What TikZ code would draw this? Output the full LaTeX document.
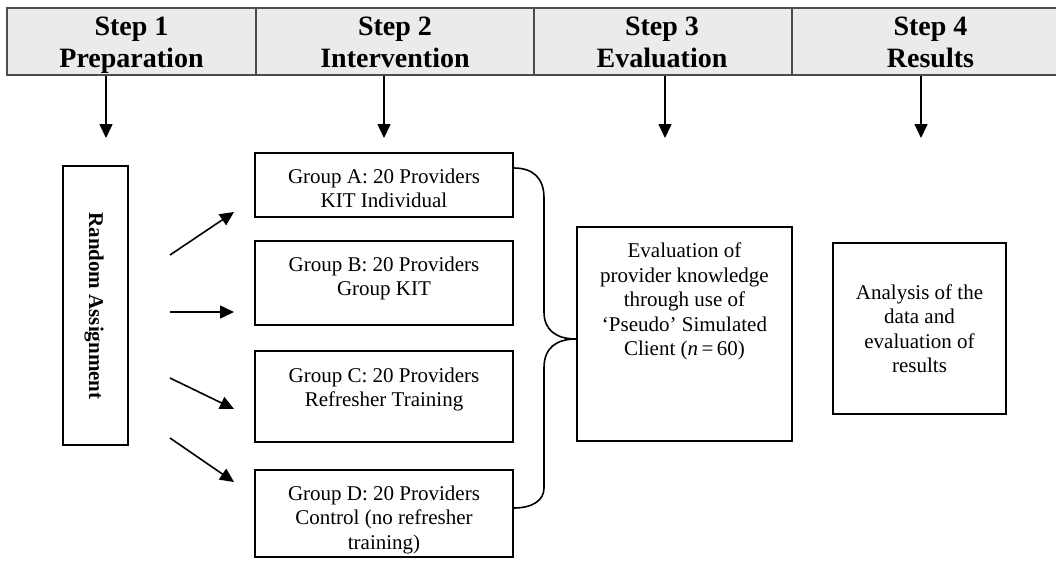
\documentclass[tikz,border=0pt]{standalone}
\usepackage{fontspec}
\setmainfont{Liberation Serif}
\usetikzlibrary{arrows.meta}
\begin{document}
\begin{tikzpicture}[x=1pt,y=-1pt,
  box/.style={draw=black, line width=1.6pt, inner sep=0pt},
  hcell/.style={draw=black!70, line width=1.2pt, fill=black!8, inner sep=0pt, minimum height=67pt},
  txt/.style={font=\fontsize{21}{24.5}\selectfont, align=center, inner sep=0pt},
  hdr/.style={font=\fontsize{28}{32}\selectfont\bfseries, align=center, inner sep=0pt},
  arr/.style={line width=1.6pt, -{Triangle[length=14pt,width=13pt]}},
  brace/.style={line width=1.6pt},
]
\useasboundingbox (0,0) rectangle (1056,560);
\fill[white] (0,0) rectangle (1056,560);

% header
\node[hcell, minimum width=249pt] (h1) at (131.5,41.5) {};
\node[hcell, minimum width=278pt] (h2) at (395,41.5) {};
\node[hcell, minimum width=258pt] (h3) at (663,41.5) {};
\node[hcell, minimum width=277pt] (h4) at (930.5,41.5) {};
\node[hdr, anchor=north] (t1) at (131.5,17) {Step 1\\Preparation};
\node[hdr, anchor=north] (t2) at (395,17) {Step 2\\Intervention};
\node[hdr, anchor=north] (t3) at (662,17) {Step 3\\Evaluation};
\node[hdr, anchor=north] (t4) at (930.5,17) {Step 4\\Results};

% down arrows
\coordinate (a1) at (106,138);
\coordinate (a2) at (384,138);
\coordinate (a3) at (665,138);
\coordinate (a4) at (921,138);
\draw[arr] (h1.south -| a1) -- (a1);
\draw[arr] (h2.south -| a2) -- (a2);
\draw[arr] (h3.south -| a3) -- (a3);
\draw[arr] (h4.south -| a4) -- (a4);

% random assignment
\node[box, minimum width=65pt, minimum height=279pt] (ra) at (95.5,305.5) {};
\node[font=\fontsize{21}{24}\selectfont\bfseries, rotate=-90, inner sep=0pt] (rat) at (94,306) {Random Assignment};

% groups
\node[box, minimum width=258pt, minimum height=64pt] (gA) at (384,185) {};
\node[box, minimum width=258pt, minimum height=84pt] (gB) at (384,283) {};
\node[box, minimum width=258pt, minimum height=91pt] (gC) at (384,396.5) {};
\node[box, minimum width=258pt, minimum height=87pt] (gD) at (384,513.5) {};
\node[txt, anchor=north] (tA) at (384,168.7) {Group A: 20 Providers\\KIT Individual};
\node[txt, anchor=north] (tB) at (384,256.7) {Group B: 20 Providers\\Group KIT};
\node[txt, anchor=north] (tC) at (384,367.7) {Group C: 20 Providers\\Refresher Training};
\node[txt, anchor=north] (tD) at (384,485.7) {Group D: 20 Providers\\Control (no refresher\\training)};

% assignment arrows
\coordinate (s1) at (170,255); \coordinate (e1) at (234,212);
\coordinate (s2) at (170,312); \coordinate (e2) at (234,312);
\coordinate (s3) at (170,378); \coordinate (e3) at (234,409);
\coordinate (s4) at (170,438); \coordinate (e4) at (234,482);
\draw[arr] (s1) -- (e1);
\draw[arr] (s2) -- (e2);
\draw[arr] (s3) -- (e3);
\draw[arr] (s4) -- (e4);

% evaluation
\node[box, minimum width=215pt, minimum height=214pt] (ev) at (684.5,334) {};
\node[txt, anchor=north] (tev) at (684.5,242.7) {Evaluation of\\provider knowledge\\through use of\\`Pseudo' Simulated\\Client (\textit{n}\,=\,60)};

% analysis
\node[box, minimum width=173pt, minimum height=171pt, txt, draw=black, line width=1.6pt] (an) at (919.5,328.5) {Analysis of the\\data and\\evaluation of\\results};

% brace
\coordinate (bA) at (gA.east |- 0,168);
\coordinate (bD) at (gD.east |- 0,508);
\coordinate (tip) at (ev.west |- 0,339);
\draw[brace] (bA) .. controls (533,168) and (544,178) .. (544,198)
  -- (544,312) .. controls (544,330) and (556,339) .. (tip)
  .. controls (556,339) and (544,348) .. (544,368)
  -- (544,488) .. controls (544,500) and (533,508) .. (bD);
\end{tikzpicture}
\end{document}
